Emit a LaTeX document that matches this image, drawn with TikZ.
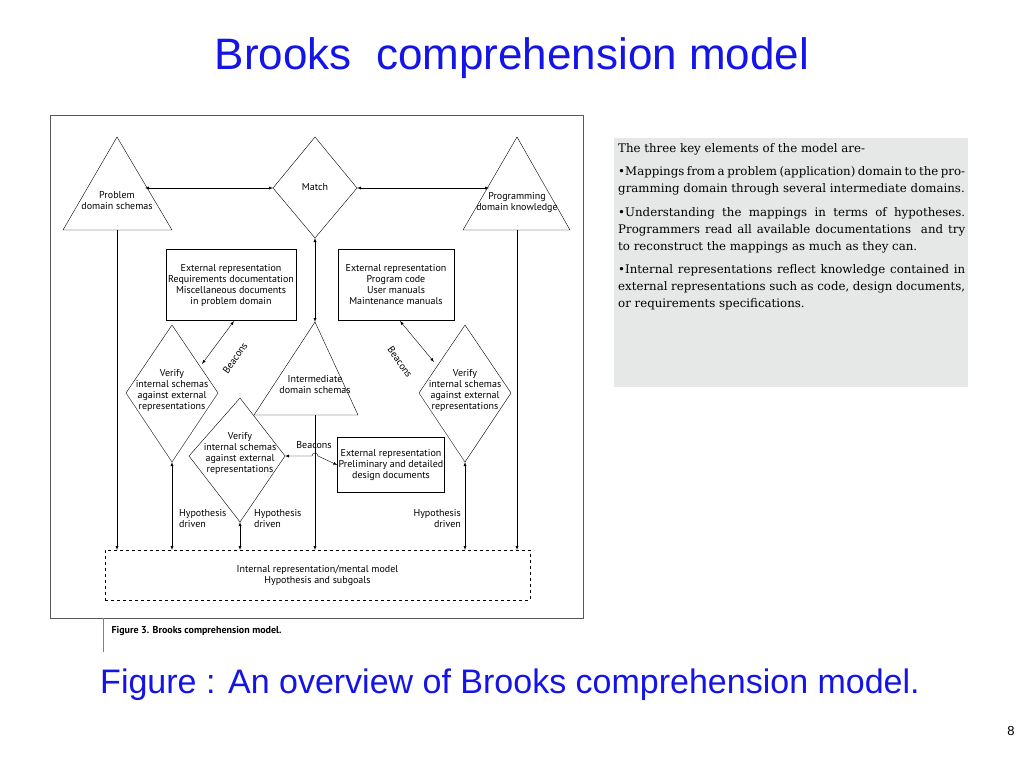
\documentclass[tikz,border=0pt]{standalone}
\usepackage{fontspec}
\setmainfont{DejaVu Serif}
\newfontfamily\slidefont{Liberation Sans}
\newfontfamily\figfont{PT Sans}
\usetikzlibrary{shapes.geometric}
\definecolor{slideblue}{RGB}{20,20,230}
\definecolor{panelgray}{RGB}{230,232,232}
\tikzset{
  fig/.style={font=\figfont\fontsize{10}{11}\selectfont,align=center,inner sep=1pt},
  extbox/.style={draw,thick,fig,inner sep=2pt},
  link/.style={-latex},
  both/.style={latex-latex}
}
\begin{document}
\begin{tikzpicture}[x=1pt,y=-1pt]
\useasboundingbox (0,0) rectangle (1024,768);
% slide texts
\node[text=slideblue,font=\slidefont\fontsize{44}{48}\selectfont] (title) at (512,58) {Brooks\ \ comprehension model};
\node[text=slideblue,font=\slidefont\fontsize{34}{38}\selectfont] (caption) at (510,685) {Figure : An overview of Brooks comprehension model.};
\node[font=\slidefont\fontsize{13}{13}\selectfont] (pagenum) at (1011,731) {8};
% side panel
\fill[panelgray] (614,138) rectangle (968,387);
\node[anchor=north west,text width=347pt,align=justify,inner sep=0pt,font=\fontsize{11.8}{16.8}\selectfont] (panel) at (618,143)
{The three key elements of the model are-\par\vspace{7pt}
\textbullet Mappings from a problem (application) domain to the programming domain through several intermediate domains.\par\vspace{7pt}
\textbullet Understanding the mappings in terms of hypotheses. Programmers read all available documentations\ \ and try to reconstruct the mappings as much as they can.\par\vspace{7pt}
\textbullet Internal representations reflect knowledge contained in external representations such as code, design documents, or requirements specifications.};
% scanned figure
\draw[thick,gray!70!black] (50,115) rectangle (583,618);
\draw[gray] (103,618) -- (103,652);
\node[anchor=west,font=\figfont\bfseries\fontsize{10}{12}\selectfont] (figcap) at (108,631) {Figure 3. Brooks comprehension model.};
% triangles and diamonds
\draw (117,137) -- (172,230) -- (63,230) -- cycle;
\node[fig] (problem) at (117,201) {Problem\\domain schemas};
\draw (517,137) -- (570,230) -- (463,230) -- cycle;
\node[fig] (progdom) at (517,203) {Programming\\domain knowledge};
\draw (315,137) -- (357,188) -- (315,238) -- (273,188) -- cycle;
\node[fig] (match) at (315,187) {Match};
\draw (315,322) -- (358,415) -- (254,415) -- cycle;
\node[fig] (inter) at (315,385) {Intermediate\\domain schemas};
\draw (172,325) -- (218,393) -- (172,462) -- (126,393) -- cycle;
\node[fig] (verleft) at (172,390) {Verify\\internal schemas\\against external\\representations};
\draw (240,398) -- (285,456) -- (240,522) -- (189,456) -- cycle;
\node[fig] (vermid) at (240,453) {Verify\\internal schemas\\against external\\representations};
\draw (465,325) -- (511,393) -- (465,462) -- (419,393) -- cycle;
\node[fig] (verright) at (465,390) {Verify\\internal schemas\\against external\\representations};
% external representations
\node[extbox,minimum width=120pt,minimum height=71pt] (extprob) at (231,285) {External representation\\Requirements documentation\\Miscellaneous documents\\in problem domain};
\node[extbox,minimum width=116pt,minimum height=71pt] (extprog) at (396,285) {External representation\\Program code\\User manuals\\Maintenance manuals};
\node[extbox,minimum width=100pt,minimum height=55pt,inner sep=1pt] (extdesign) at (391,465) {External representation\\Preliminary and detailed\\design documents};
% mental model
\node[draw,dashed,fig,minimum width=425pt,minimum height=50pt] (mental) at (317.5,575) {Internal representation/mental model\\Hypothesis and subgoals};
% connectors
\coordinate (probr) at (145,188);
\coordinate (progl) at (489,188);
\draw[both] (probr) -- (273,188);
\draw[both] (357,188) -- (progl);
\draw[both] (315,238) -- (315,322);
\draw[link] (117,230) -- (117,550);
\draw[link] (517,230) -- (517,550);
\draw[link] (315,415) -- (315,550);
\draw[both] (172,462) -- (172,550);
\draw[both] (240,522) -- (240,550);
\draw[both] (465,462) -- (465,550);
\draw[both] (285,456) -- (312,456) arc (180:0:3pt) -- (extdesign.west);
\node[fig] (beaconmid) at (314,445) {Beacons};
\draw[both] (202,364) -- (234,321);
\node[fig,rotate=55] (beaconleft) at (235,358) {Beacons};
\draw[both] (400,321) -- (434,362);
\node[fig,rotate=-55] (beaconright) at (400,362) {Beacons};
\node[fig,align=left,anchor=west] (hypleft) at (178,519) {Hypothesis\\driven};
\node[fig,align=left,anchor=west] (hypmid) at (253,519) {Hypothesis\\driven};
\node[fig,align=right,anchor=east] (hypright) at (462,519) {Hypothesis\\driven};
\end{tikzpicture}
\end{document}
